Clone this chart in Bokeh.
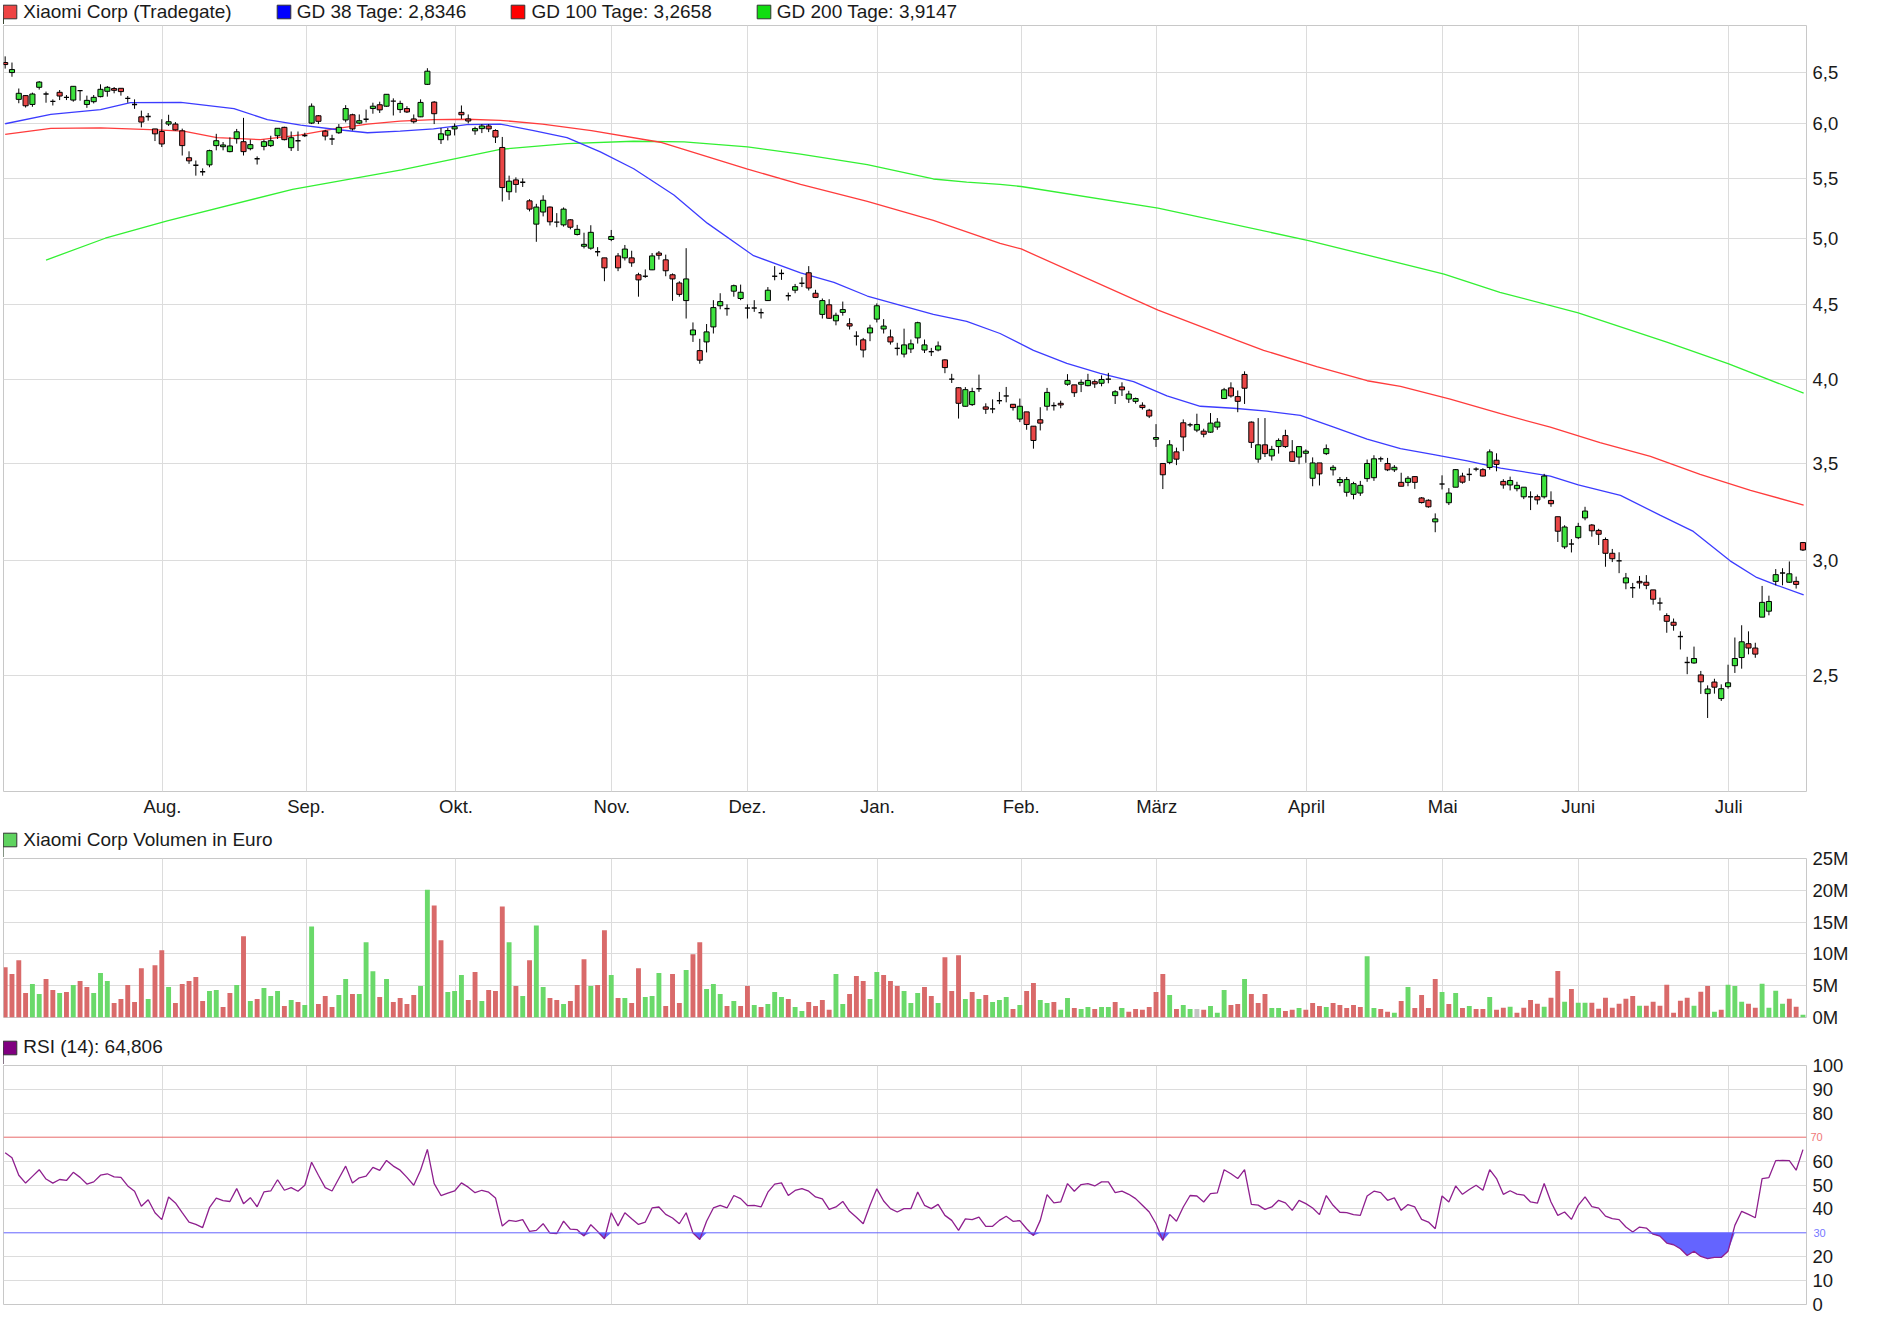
import numpy as np
from bokeh.plotting import figure
from bokeh.models import (Range1d, FixedTicker, CustomJSTickFormatter, Legend,
                          LegendItem, Span, LinearAxis)
from bokeh.layouts import column
from bokeh.embed import file_html
from bokeh.resources import INLINE

FONT = "Liberation Sans"

# ---------------- data ----------------
opens = [
    6.604, 6.500, 6.230, 6.267, 6.180, 6.350, 6.283, 6.210, 6.300, 6.250,
    6.223, 6.317, 6.180, 6.207, 6.257, 6.310, 6.337, 6.340, 6.240, 6.180,
    6.060, 6.063, 5.945, 5.921, 5.991, 5.991, 5.927, 5.680, 5.613, 5.555,
    5.616, 5.790, 5.780, 5.735, 5.854, 5.826, 5.762, 5.671, 5.783, 5.790,
    5.881, 5.960, 5.771, 5.835, 5.884, 6.000, 6.070, 5.924, 5.851, 5.909,
    6.030, 6.080, 6.000, 6.037, 6.140, 6.177, 6.163, 6.213, 6.130, 6.140,
    6.040, 6.060, 6.380, 6.203, 5.845, 5.887, 5.945, 6.103, 6.040, 5.927,
    5.948, 5.973, 5.930, 5.773, 5.382, 5.484, 5.464, 5.305, 5.113, 5.212,
    5.253, 5.129, 5.107, 5.148, 5.030, 4.937, 4.922, 4.894, 4.847, 4.990,
    4.862, 4.847, 4.847, 4.719, 4.708, 4.756, 4.884, 4.832, 4.719, 4.658,
    4.530, 4.291, 4.185, 4.243, 4.345, 4.493, 4.473, 4.598, 4.545, 4.477,
    4.477, 4.444, 4.530, 4.708, 4.729, 4.565, 4.605, 4.656, 4.734, 4.583,
    4.432, 4.500, 4.387, 4.446, 4.367, 4.282, 4.257, 4.304, 4.399, 4.331,
    4.277, 4.200, 4.162, 4.196, 4.270, 4.189, 4.178, 4.189, 4.124, 4.000,
    3.946, 3.832, 3.842, 3.940, 3.828, 3.816, 3.866, 3.895, 3.844, 3.755,
    3.798, 3.713, 3.751, 3.832, 3.836, 3.850, 3.968, 3.964, 3.968, 3.959,
    3.984, 3.974, 4.000, 3.897, 3.951, 3.876, 3.862, 3.838, 3.808, 3.637,
    3.500, 3.506, 3.565, 3.733, 3.721, 3.690, 3.684, 3.678, 3.708, 3.879,
    3.945, 3.891, 4.030, 3.737, 3.524, 3.605, 3.542, 3.595, 3.658, 3.565,
    3.536, 3.557, 3.419, 3.503, 3.555, 3.465, 3.396, 3.344, 3.333, 3.340,
    3.417, 3.422, 3.526, 3.500, 3.465, 3.397, 3.397, 3.428, 3.314, 3.302,
    3.191, 3.388, 3.289, 3.371, 3.431, 3.440, 3.469, 3.466, 3.478, 3.518,
    3.402, 3.383, 3.363, 3.320, 3.320, 3.321, 3.320, 3.301, 3.217, 3.067,
    3.081, 3.112, 3.211, 3.175, 3.148, 3.103, 3.036, 3.000, 2.897, 2.875,
    2.904, 2.900, 2.865, 2.806, 2.751, 2.722, 2.661, 2.554, 2.552, 2.504,
    2.431, 2.476, 2.412, 2.458, 2.541, 2.574, 2.631, 2.613, 2.744, 2.770,
    2.904, 2.943, 2.900, 2.904, 3.088,
]
highs = [
    6.669, 6.604, 6.338, 6.273, 6.297, 6.413, 6.307, 6.230, 6.323, 6.273,
    6.360, 6.323, 6.267, 6.273, 6.380, 6.363, 6.353, 6.340, 6.263, 6.230,
    6.120, 6.097, 5.945, 6.037, 6.080, 6.010, 5.948, 5.738, 5.655, 5.585,
    5.753, 5.899, 5.823, 5.866, 5.945, 6.050, 5.845, 5.692, 5.845, 5.881,
    5.951, 5.966, 5.921, 5.921, 5.909, 6.190, 6.077, 5.936, 5.890, 5.991,
    6.173, 6.090, 6.083, 6.130, 6.197, 6.207, 6.280, 6.240, 6.217, 6.163,
    6.083, 6.230, 6.545, 6.213, 5.954, 5.954, 5.997, 6.170, 6.083, 5.966,
    5.991, 5.991, 5.942, 5.870, 5.521, 5.506, 5.497, 5.319, 5.280, 5.352,
    5.258, 5.203, 5.250, 5.154, 5.107, 5.044, 5.104, 4.930, 4.847, 5.066,
    4.884, 4.947, 4.902, 4.734, 4.759, 4.884, 4.900, 4.872, 4.729, 4.671,
    4.922, 4.376, 4.264, 4.365, 4.533, 4.583, 4.503, 4.646, 4.646, 4.503,
    4.533, 4.473, 4.628, 4.784, 4.759, 4.588, 4.651, 4.701, 4.784, 4.608,
    4.545, 4.540, 4.444, 4.523, 4.405, 4.315, 4.270, 4.360, 4.510, 4.399,
    4.327, 4.237, 4.333, 4.259, 4.381, 4.259, 4.203, 4.246, 4.128, 4.034,
    3.950, 3.950, 3.946, 4.029, 3.850, 3.874, 3.920, 3.951, 3.844, 3.879,
    3.798, 3.713, 3.826, 3.945, 3.856, 3.866, 4.032, 3.964, 3.998, 4.034,
    3.998, 4.024, 4.040, 3.931, 3.980, 3.927, 3.885, 3.856, 3.816, 3.725,
    3.500, 3.632, 3.589, 3.753, 3.733, 3.787, 3.698, 3.791, 3.761, 3.945,
    3.980, 3.929, 4.050, 3.741, 3.761, 3.761, 3.599, 3.642, 3.692, 3.632,
    3.595, 3.579, 3.534, 3.503, 3.607, 3.491, 3.426, 3.426, 3.400, 3.405,
    3.522, 3.546, 3.538, 3.531, 3.491, 3.449, 3.431, 3.431, 3.319, 3.307,
    3.234, 3.435, 3.366, 3.469, 3.449, 3.474, 3.479, 3.474, 3.579, 3.557,
    3.414, 3.428, 3.400, 3.371, 3.349, 3.332, 3.443, 3.349, 3.217, 3.174,
    3.105, 3.186, 3.268, 3.180, 3.156, 3.113, 3.057, 3.041, 2.943, 2.897,
    2.929, 2.933, 2.865, 2.830, 2.761, 2.738, 2.683, 2.577, 2.619, 2.520,
    2.463, 2.489, 2.467, 2.545, 2.657, 2.709, 2.683, 2.635, 2.883, 2.839,
    2.961, 2.965, 2.997, 2.926, 3.091,
]
lows = [
    6.541, 6.457, 6.192, 6.150, 6.157, 6.327, 6.197, 6.170, 6.223, 6.223,
    6.207, 6.217, 6.147, 6.190, 6.250, 6.257, 6.290, 6.267, 6.197, 6.137,
    5.960, 6.023, 5.832, 5.777, 5.973, 5.930, 5.700, 5.625, 5.521, 5.521,
    5.595, 5.747, 5.747, 5.729, 5.808, 5.700, 5.747, 5.619, 5.747, 5.777,
    5.851, 5.838, 5.741, 5.741, 5.869, 5.991, 5.991, 5.838, 5.796, 5.899,
    6.007, 5.930, 5.991, 6.007, 6.090, 6.097, 6.157, 6.073, 6.097, 6.097,
    5.997, 6.057, 6.373, 5.991, 5.805, 5.838, 5.884, 6.040, 5.997, 5.890,
    5.906, 5.915, 5.814, 5.300, 5.313, 5.374, 5.423, 5.217, 4.972, 5.176,
    5.102, 5.088, 5.093, 5.071, 5.022, 4.920, 4.910, 4.859, 4.671, 4.977,
    4.746, 4.827, 4.779, 4.558, 4.696, 4.754, 4.834, 4.708, 4.528, 4.558,
    4.403, 4.243, 4.099, 4.173, 4.300, 4.468, 4.423, 4.558, 4.533, 4.403,
    4.450, 4.403, 4.528, 4.678, 4.681, 4.530, 4.583, 4.628, 4.603, 4.548,
    4.403, 4.400, 4.356, 4.423, 4.327, 4.219, 4.140, 4.248, 4.376, 4.300,
    4.225, 4.153, 4.140, 4.169, 4.232, 4.169, 4.149, 4.180, 4.038, 3.976,
    3.758, 3.830, 3.834, 3.920, 3.786, 3.790, 3.845, 3.856, 3.806, 3.737,
    3.692, 3.583, 3.688, 3.806, 3.806, 3.820, 3.959, 3.889, 3.919, 3.955,
    3.945, 3.955, 3.974, 3.846, 3.895, 3.852, 3.848, 3.812, 3.761, 3.593,
    3.361, 3.496, 3.491, 3.569, 3.708, 3.678, 3.648, 3.674, 3.692, 3.876,
    3.885, 3.796, 3.846, 3.587, 3.504, 3.536, 3.516, 3.555, 3.587, 3.510,
    3.496, 3.504, 3.376, 3.380, 3.547, 3.434, 3.376, 3.321, 3.307, 3.325,
    3.400, 3.405, 3.509, 3.458, 3.453, 3.376, 3.376, 3.362, 3.285, 3.263,
    3.139, 3.359, 3.277, 3.371, 3.390, 3.405, 3.457, 3.429, 3.466, 3.457,
    3.363, 3.354, 3.349, 3.308, 3.251, 3.280, 3.311, 3.268, 3.091, 3.057,
    3.040, 3.105, 3.199, 3.117, 3.076, 2.972, 2.994, 2.942, 2.868, 2.829,
    2.871, 2.868, 2.799, 2.773, 2.677, 2.686, 2.607, 2.507, 2.549, 2.430,
    2.339, 2.431, 2.403, 2.450, 2.512, 2.529, 2.587, 2.573, 2.744, 2.752,
    2.886, 2.886, 2.897, 2.871, 3.047,
]
closes = [
    6.583, 6.531, 6.290, 6.167, 6.283, 6.403, 6.283, 6.210, 6.263, 6.250,
    6.360, 6.317, 6.220, 6.250, 6.330, 6.350, 6.320, 6.307, 6.240, 6.180,
    6.010, 6.063, 5.899, 5.805, 6.013, 5.936, 5.790, 5.652, 5.613, 5.555,
    5.744, 5.835, 5.796, 5.787, 5.918, 5.735, 5.799, 5.671, 5.826, 5.835,
    5.951, 5.845, 5.863, 5.835, 5.884, 6.163, 6.017, 5.878, 5.851, 5.960,
    6.140, 5.945, 6.023, 6.037, 6.163, 6.127, 6.280, 6.213, 6.190, 6.107,
    6.013, 6.200, 6.514, 6.090, 5.899, 5.930, 5.966, 6.080, 6.020, 5.948,
    5.973, 5.945, 5.869, 5.418, 5.473, 5.445, 5.464, 5.236, 5.253, 5.310,
    5.132, 5.129, 5.236, 5.088, 5.071, 4.952, 5.047, 4.894, 4.771, 5.014,
    4.771, 4.915, 4.809, 4.681, 4.708, 4.862, 4.867, 4.749, 4.688, 4.575,
    4.688, 4.324, 4.122, 4.311, 4.480, 4.523, 4.473, 4.638, 4.590, 4.477,
    4.477, 4.444, 4.605, 4.708, 4.729, 4.565, 4.631, 4.656, 4.621, 4.553,
    4.530, 4.405, 4.426, 4.466, 4.351, 4.282, 4.189, 4.338, 4.493, 4.351,
    4.243, 4.200, 4.223, 4.230, 4.374, 4.223, 4.178, 4.216, 4.074, 4.000,
    3.850, 3.934, 3.922, 3.940, 3.814, 3.816, 3.866, 3.895, 3.824, 3.832,
    3.723, 3.630, 3.731, 3.917, 3.836, 3.840, 3.992, 3.915, 3.980, 3.992,
    3.970, 3.998, 4.000, 3.921, 3.933, 3.907, 3.879, 3.824, 3.773, 3.647,
    3.438, 3.605, 3.524, 3.650, 3.721, 3.723, 3.666, 3.731, 3.737, 3.933,
    3.895, 3.862, 3.943, 3.619, 3.605, 3.555, 3.579, 3.630, 3.595, 3.512,
    3.595, 3.569, 3.503, 3.443, 3.583, 3.479, 3.412, 3.412, 3.390, 3.381,
    3.500, 3.526, 3.526, 3.465, 3.479, 3.376, 3.419, 3.397, 3.290, 3.268,
    3.206, 3.388, 3.340, 3.466, 3.398, 3.440, 3.469, 3.431, 3.565, 3.495,
    3.383, 3.407, 3.381, 3.371, 3.320, 3.304, 3.431, 3.284, 3.144, 3.165,
    3.081, 3.168, 3.246, 3.146, 3.129, 3.036, 3.010, 3.000, 2.920, 2.875,
    2.897, 2.886, 2.823, 2.806, 2.726, 2.709, 2.661, 2.554, 2.570, 2.477,
    2.449, 2.456, 2.450, 2.473, 2.570, 2.639, 2.613, 2.588, 2.809, 2.813,
    2.935, 2.943, 2.939, 2.890, 3.052,
]
volume_m = [
    7.92, 6.82, 9.01, 3.85, 5.26, 3.70, 6.04, 4.32, 3.85, 4.01,
    5.10, 5.73, 4.79, 3.85, 6.98, 5.73, 2.29, 2.92, 5.10, 2.45,
    7.76, 2.92, 8.23, 10.57, 4.79, 2.29, 5.26, 5.73, 6.35, 2.60,
    4.17, 4.32, 1.67, 3.85, 5.10, 12.76, 2.60, 2.92, 4.64, 3.39,
    4.17, 1.82, 2.76, 2.45, 1.98, 14.32, 2.14, 3.39, 1.67, 3.54,
    6.04, 3.70, 3.70, 11.82, 7.29, 3.23, 6.04, 2.45, 3.07, 2.14,
    3.54, 4.95, 20.1, 17.6, 12.14, 4.01, 4.17, 6.67, 2.76, 7.14,
    2.60, 4.32, 4.17, 17.45, 11.82, 4.95, 3.39, 9.01, 14.48, 4.79,
    3.07, 2.76, 2.14, 2.60, 5.10, 9.17, 4.95, 5.10, 13.70, 6.67,
    3.07, 3.07, 2.29, 7.76, 3.23, 3.39, 6.98, 1.82, 6.82, 2.29,
    7.45, 9.95, 11.82, 4.48, 5.26, 3.70, 1.82, 2.60, 1.82, 4.95,
    1.98, 1.67, 2.14, 4.01, 3.23, 2.92, 1.67, 1.04, 2.45, 1.82,
    2.76, 1.20, 6.82, 2.14, 3.70, 6.51, 5.73, 2.92, 7.14, 6.67,
    5.73, 4.95, 4.17, 2.29, 3.85, 4.79, 3.39, 2.29, 9.48, 4.17,
    9.79, 2.92, 4.01, 2.92, 3.54, 2.45, 2.76, 3.23, 1.35, 1.98,
    4.17, 5.42, 2.76, 2.29, 2.45, 1.20, 3.07, 1.51, 1.35, 1.67,
    1.35, 1.67, 1.67, 2.45, 1.51, 0.89, 1.35, 1.20, 1.67, 4.01,
    6.82, 3.54, 1.35, 1.98, 1.35, 1.35, 1.20, 1.82, 0.73, 4.32,
    1.98, 2.14, 6.04, 3.70, 2.29, 3.70, 1.51, 1.51, 1.04, 1.20,
    1.51, 1.20, 2.29, 1.82, 1.67, 2.29, 1.98, 1.51, 1.98, 1.67,
    9.64, 1.51, 1.35, 0.89, 0.73, 2.60, 4.79, 1.51, 3.54, 1.51,
    6.04, 4.01, 2.14, 3.85, 1.51, 1.82, 1.35, 1.35, 3.23, 1.20,
    1.52, 1.68, 0.73, 1.52, 2.77, 2.15, 1.68, 3.09, 7.33, 2.46,
    4.50, 2.30, 2.30, 2.30, 1.36, 3.09, 1.52, 2.15, 2.93, 3.40,
    1.83, 1.83, 2.46, 1.83, 5.13, 0.73, 2.62, 3.09, 1.83, 4.03,
    4.97, 0.89, 1.20, 5.13, 4.97, 2.46, 2.15, 1.52, 5.29, 1.52,
    4.19, 2.15, 2.93, 1.68, 0.42,
]
# g = close above previous close, r = below, n = unchanged
volume_dir = (
    "rrrrggrrgr" "grrgggrrrr" "rgrrgrrrrr" "ggrrgrgrgg" "grgrggrrrg"
    "grgggrgrrr" "rggrrgggrr" "grr"
    "rgrgrggrrg" "rrrgrrgrgr" "rgggrrrgrr" "gggrgrrgrg" "ggrggrrrrg"
    "grrrggrrrg" "ggrrgrrrgr" "grgg"
    "grgrrggrgg" "rggrggrgrr" "rrrrgrggnr" "gggrrgrrrg" "grrgrrrgrr"
    "rrrggrrgrg" "rrrrgrgrgr" "rgr"
    "rgrrrrgrrg" "rggrrrrrrr" "grrrrrrrgr" "rgrgggrrgg" "ggrrg"
)
rsi14 = [
    63.5, 61.4, 54.1, 50.8, 53.6, 56.4, 52.5, 50.8, 52.3, 51.9,
    55.3, 53.2, 50.4, 51.3, 54.1, 54.7, 53.4, 53.2, 49.6, 47.4,
    41.1, 43.8, 38.4, 35.5, 45.0, 42.5, 38.4, 34.5, 33.5, 32.2,
    40.5, 44.5, 43.5, 43.1, 48.5, 42.2, 44.7, 40.9, 47.1, 47.5,
    52.2, 47.8, 48.9, 47.4, 49.9, 59.5, 54.1, 48.9, 47.5, 52.7,
    57.9, 50.8, 53.0, 53.7, 57.4, 56.1, 60.3, 57.9, 56.2, 53.2,
    49.9, 56.2, 64.9, 50.6, 45.6, 46.6, 47.5, 50.9, 49.1, 46.8,
    47.8, 47.0, 44.6, 32.8, 35.2, 34.8, 35.5, 30.6, 31.0, 33.8,
    29.9, 29.7, 34.9, 31.5, 31.3, 28.7, 33.4, 30.6, 27.5, 38.4,
    32.9, 38.4, 35.9, 33.5, 34.5, 40.4, 40.8, 37.7, 36.2, 33.8,
    38.4, 29.9, 27.2, 34.8, 40.4, 41.5, 40.4, 45.6, 44.3, 41.4,
    41.5, 40.8, 47.0, 50.4, 50.9, 45.6, 47.7, 48.5, 47.4, 45.0,
    44.2, 39.8, 40.8, 43.1, 39.0, 36.5, 33.8, 41.5, 48.4, 43.3,
    40.1, 38.7, 40.1, 40.1, 47.1, 41.5, 40.1, 41.9, 37.3, 35.2,
    31.0, 35.8, 35.5, 36.6, 32.7, 32.7, 35.2, 36.9, 34.8, 35.1,
    31.7, 28.9, 35.2, 46.0, 42.5, 42.9, 50.6, 47.4, 50.2, 50.6,
    49.6, 51.3, 51.3, 46.8, 47.4, 46.1, 44.3, 41.5, 38.7, 33.8,
    26.8, 37.7, 34.8, 40.8, 45.6, 45.4, 42.9, 46.4, 46.7, 56.4,
    54.7, 52.7, 56.4, 41.9, 41.6, 39.8, 40.8, 43.6, 42.5, 39.4,
    43.6, 42.2, 40.4, 37.6, 45.6, 41.5, 38.6, 38.4, 37.6, 37.3,
    45.4, 47.4, 46.8, 43.6, 44.6, 39.4, 41.8, 40.8, 35.6, 34.5,
    31.7, 45.4, 42.9, 49.6, 46.1, 48.1, 49.9, 47.8, 56.4, 52.7,
    46.1, 47.6, 46.2, 45.8, 42.9, 42.4, 50.6, 42.9, 37.3, 38.7,
    35.6, 41.5, 45.0, 41.0, 40.3, 37.0, 35.9, 35.5, 32.4, 30.3,
    32.4, 32.0, 29.4, 28.6, 25.7, 25.0, 23.3, 20.5, 22.3, 20.1,
    19.2, 19.7, 19.7, 22.3, 33.1, 39.0, 37.7, 36.3, 52.7, 53.1,
    60.2, 60.3, 60.2, 56.2, 64.8,
]
# moving averages read at sampled trading-day positions
gd38_day = [0, 6.7, 14.0, 18.4, 25.8, 33.6, 38.5, 43.4, 48.3, 53.2,
            58.0, 62.9, 67.8, 72.7, 77.6, 82.5, 87.4, 92.3, 98.2, 103.1,
            109.9, 116.8, 121.7, 126.6, 131.5, 136.3, 141.2, 146.1, 151.0, 155.9,
            160.8, 165.7, 170.6, 175.5, 180.4, 185.3, 190.2, 195.1, 200.0, 204.9,
            209.8, 214.7, 219.6, 226.9, 231.0, 237.2, 243.0, 247.9, 253.3, 257.2,
            260.2, 264.1]
gd38 = [5.994, 6.083, 6.13, 6.197, 6.20, 6.14, 6.033, 5.98, 5.942, 5.909,
        5.924, 5.945, 5.985, 5.991, 5.93, 5.864, 5.733, 5.582, 5.354, 5.121,
        4.864, 4.734, 4.663, 4.563, 4.495, 4.432, 4.383, 4.30, 4.187, 4.101,
        4.037, 3.984, 3.895, 3.832, 3.82, 3.802, 3.777, 3.707, 3.638, 3.583,
        3.549, 3.514, 3.474, 3.431, 3.383, 3.328, 3.225, 3.143, 3.0, 2.922,
        2.886, 2.843]
gd100_day = [0, 6.7, 14.0, 21.3, 26.2, 31.1, 37.5, 43.4, 48.3, 53.2,
             58.0, 62.9, 67.8, 72.7, 78.9, 86.1, 96.2, 108.9, 116.8, 126.6,
             136.3, 146.1, 149.2, 169.3, 180.8, 184.8, 192.6, 200.0, 204.9, 212.2,
             219.6, 226.9, 234.2, 241.6, 248.9, 256.3, 264.1]
gd100 = [5.893, 5.951, 5.954, 5.939, 5.924, 5.863, 5.845, 5.89, 5.945, 5.991,
         6.018, 6.033, 6.037, 6.027, 5.99, 5.93, 5.821, 5.581, 5.445, 5.30,
         5.143, 4.96, 4.916, 4.462, 4.255, 4.187, 4.08, 3.99, 3.955, 3.876,
         3.787, 3.707, 3.618, 3.539, 3.44, 3.354, 3.277]
gd200_day = [6.0, 14.7, 23.8, 42.2, 58.2, 72.7, 82.5, 92.3, 99.7, 109.0,
             116.8, 126.6, 136.3, 141.2, 146.1, 149.2, 169.3, 191.4, 211.3, 219.5,
             231.0, 244.0, 253.1, 264.1]
gd200 = [4.83, 5.0, 5.14, 5.403, 5.572, 5.756, 5.809, 5.83, 5.824, 5.779,
         5.712, 5.618, 5.492, 5.464, 5.445, 5.427, 5.244, 4.982, 4.724, 4.59,
         4.443, 4.241, 4.098, 3.912]

month_days = [23.1, 44.2, 66.2, 89.1, 109.0, 128.1, 149.2, 169.1, 191.1, 211.1, 231.0, 253.1]
month_labels = ["Aug.", "Sep.", "Okt.", "Nov.", "Dez.", "Jan.", "Feb.", "März",
                "April", "Mai", "Juni", "Juli"]
price_ticks = [2.5, 3.0, 3.5, 4.0, 4.5, 5.0, 5.5, 6.0, 6.5]
volume_ticks = [0, 5, 10, 15, 20, 25]
rsi_ticks = [0, 10, 20, 40, 50, 60, 80, 90, 100]
rsi_levels = [70, 30]
legend_price = ["Xiaomi Corp (Tradegate)", "GD 38 Tage: 2,8346",
                "GD 100 Tage: 3,2658", "GD 200 Tage: 3,9147"]
legend_volume = "Xiaomi Corp Volumen in Euro"
legend_rsi = "RSI (14): 64,806"

# ---------------- styling ----------------
C_UP = "#3ee23e"
C_DOWN = "#ea4646"
V_UP = "#6ad96a"
V_DOWN = "#d96a6a"
V_FLAT = "#c4c4c4"
C_GD38 = "#3c3cff"
C_GD100 = "#ff3c3c"
C_GD200 = "#33f033"
C_RSI = "#8e1f8e"
GRID = "#dcdcdc"
OUTLINE = "#c8c8c8"
TXT = "#1a1a1a"

LEFT = 1
RIGHT = 64
W = LEFT + 1803 + RIGHT
TOPPAD = 12        # room above sub-panels so the top tick label is not pushed down
x_range = Range1d(-0.245, 264.52)


def make_fig(height, y_range, top, bottom, y_type="linear", show_x=False):
    p = figure(width=W, height=height, x_range=x_range, y_range=y_range,
               y_axis_type=y_type, y_axis_location="right",
               x_axis_location="below" if show_x else None,
               output_backend="svg", toolbar_location=None, tools="",
               min_border_left=LEFT, min_border_right=RIGHT,
               min_border_top=top, min_border_bottom=bottom)
    p.outline_line_color = OUTLINE
    p.outline_line_width = 1
    p.background_fill_color = "#ffffff"
    p.border_fill_color = "#ffffff"
    p.xgrid.ticker = FixedTicker(ticks=month_days)
    p.xgrid.grid_line_color = GRID
    p.ygrid.grid_line_color = GRID
    return p


def style_axis(ax, standoff, size="18.5px", color=TXT):
    ax.axis_line_color = None
    ax.major_tick_line_color = None
    ax.minor_tick_line_color = None
    ax.major_tick_out = 0
    ax.major_tick_in = 0
    ax.minor_tick_out = 0
    ax.minor_tick_in = 0
    ax.major_label_standoff = standoff
    ax.major_label_text_font = FONT
    ax.major_label_text_font_size = size
    ax.major_label_text_color = color


def legend_row(entries, height, center_from_top):
    """A thin strip holding one legend row above a panel."""
    f = figure(width=W, height=height, x_range=Range1d(0, 1), y_range=Range1d(0, 1),
               x_axis_location=None, y_axis_location=None,
               output_backend="svg", toolbar_location=None, tools="",
               min_border=0, min_border_left=LEFT, min_border_right=RIGHT)
    f.outline_line_color = None
    f.grid.visible = False
    f.background_fill_color = "#ffffff"
    f.border_fill_color = "#ffffff"
    items = []
    for text, color in entries:
        # one hidden bar (outside the visible range) gives the legend its swatch
        r = f.vbar(x=[-5.0], top=[0.5], width=0.5, fill_color=color,
                   line_color="#333333", line_width=1)
        items.append(LegendItem(label=text, renderers=[r]))
    leg = Legend(items=items, orientation="horizontal",
                 location=(-1.7, height - center_from_top - 10.6),
                 label_text_font=FONT, label_text_font_size="19px",
                 label_text_color=TXT, glyph_width=17, glyph_height=17,
                 label_height=17, label_width=10, label_standoff=5,
                 spacing=43, padding=0, margin=0,
                 border_line_color=None, background_fill_alpha=0.0)
    f.add_layout(leg)
    return f


# ---------------- price panel ----------------
leg1 = legend_row(list(zip(legend_price, ["#ee4444", "#0000ff", "#ff0000", "#10dd10"])),
                  24, 12.3)
p1 = make_fig(799, Range1d(2.082, 7.003), 1, 32, y_type="log", show_x=True)
p1.yaxis[0].ticker = FixedTicker(ticks=price_ticks)
p1.ygrid.ticker = FixedTicker(ticks=price_ticks)
p1.yaxis[0].formatter = CustomJSTickFormatter(
    code="return tick.toFixed(1).replace('.', ',');")
style_axis(p1.yaxis[0], 6)
p1.xaxis[0].ticker = FixedTicker(ticks=month_days)
p1.xaxis[0].formatter = CustomJSTickFormatter(
    args=dict(labels=month_labels), code="return labels[index];")
style_axis(p1.xaxis[0], 4)

p1.line(gd200_day, gd200, line_color=C_GD200, line_width=1.3)
p1.line(gd100_day, gd100, line_color=C_GD100, line_width=1.3)
p1.line(gd38_day, gd38, line_color=C_GD38, line_width=1.3)

o = np.array(opens)
h = np.array(highs)
lo = np.array(lows)
c = np.array(closes)
day = np.arange(len(c))
rise = c > o
fall = c < o
flat = ~(rise | fall)
p1.segment(x0=day, y0=lo, x1=day, y1=h, line_color="black", line_width=1)
p1.vbar(x=day[rise], width=0.75, top=c[rise], bottom=o[rise],
        fill_color=C_UP, line_color="black", line_width=1)
p1.vbar(x=day[fall], width=0.75, top=o[fall], bottom=c[fall],
        fill_color=C_DOWN, line_color="black", line_width=1)
p1.segment(x0=day[flat] - 0.375, y0=c[flat], x1=day[flat] + 0.375, y1=c[flat],
           line_color="black", line_width=1.4)

# ---------------- volume panel ----------------
leg2 = legend_row([(legend_volume, "#5fd35f")], 34, 17.0)
p2 = make_fig(TOPPAD + 159 + 13, Range1d(0, 25), TOPPAD, 13)
p2.border_fill_alpha = 0.0
p2.margin = (1 - TOPPAD, 0, 0, 0)
p2.yaxis[0].ticker = FixedTicker(ticks=volume_ticks)
p2.ygrid.ticker = FixedTicker(ticks=volume_ticks)
p2.yaxis[0].formatter = CustomJSTickFormatter(code="return tick.toFixed(0) + 'M';")
style_axis(p2.yaxis[0], 6)
vcolors = [{"g": V_UP, "r": V_DOWN, "n": V_FLAT}[d] for d in volume_dir]
nv = min(len(volume_m), len(vcolors))
p2.vbar(x=np.arange(nv), top=volume_m[:nv], width=0.72,
        fill_color=vcolors[:nv], line_color=None)

# ---------------- RSI panel ----------------
leg3 = legend_row([(legend_rsi, "#800080")], 34, 17.7)
p3 = make_fig(TOPPAD + 239 + 14, Range1d(0, 100), TOPPAD, 14)
p3.border_fill_alpha = 0.0
p3.margin = (1 - TOPPAD, 0, 0, 0)
main_ax = p3.yaxis[0]
main_ax.ticker = FixedTicker(ticks=rsi_ticks)
p3.ygrid.ticker = FixedTicker(ticks=rsi_ticks)
main_ax.formatter = CustomJSTickFormatter(code="return tick.toFixed(0);")
r = np.array(rsi14)
rd = np.arange(len(r))
p3.varea(x=rd, y1=np.minimum(r, 30.0), y2=30.0, fill_color="#6464ff")
p3.add_layout(Span(location=rsi_levels[0], dimension="width", line_color="#e86a6a", line_width=1))
p3.add_layout(Span(location=rsi_levels[1], dimension="width", line_color="#6464ff", line_width=1))
p3.line(rd, r, line_color=C_RSI, line_width=1.3)

# small coloured level labels: two thin axes closest to the frame,
# the main axis pulled back over them with a negative standoff
SMALL_W = 12.2
ax70 = LinearAxis(ticker=FixedTicker(ticks=[rsi_levels[0]]),
                  formatter=CustomJSTickFormatter(code="return tick.toFixed(0);"))
style_axis(ax70, 4, size="11px", color="#f07878")
ax30 = LinearAxis(ticker=FixedTicker(ticks=[rsi_levels[1]]),
                  formatter=CustomJSTickFormatter(code="return tick.toFixed(0);"))
style_axis(ax30, int(round(4 - (4 + SMALL_W))), size="11px", color="#7878ff")
style_axis(main_ax, -16)
p3.right = [ax70, ax30, main_ax]

layout = column(leg1, p1, leg2, p2, leg3, p3, margin=(0, 0, 0, 2))

with open("out.html", "w", encoding="utf-8") as f:
    f.write(file_html(layout, INLINE, title="Xiaomi Corp"))
